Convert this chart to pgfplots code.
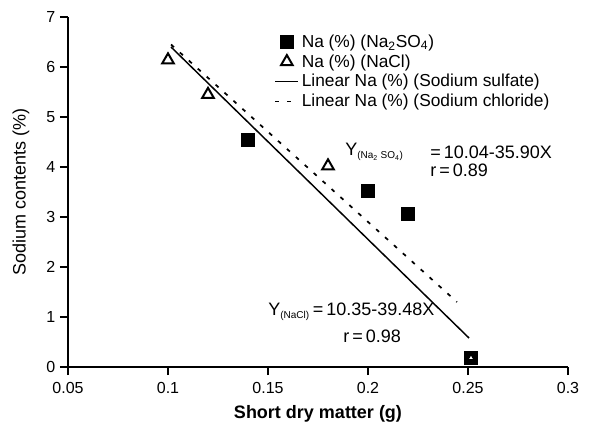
\documentclass[border=0pt]{standalone}
\usepackage{pgfplots}
\pgfplotsset{compat=1.18}
\usepackage{fontspec}
\setmainfont{Liberation Sans}
\begin{document}
\begin{tikzpicture}
\useasboundingbox (-51pt,-47.25pt) rectangle (390.75pt,275.25pt);
\begin{axis}[
  at={(0pt,0pt)}, anchor=south west,
  scale only axis, width=375pt, height=262.5pt,
  xmin=0.05, xmax=0.3, ymin=0, ymax=7,
  axis x line*=bottom, axis y line*=left,
  axis line style={-, line width=1.1pt},
  xtick={0.05,0.1,0.15,0.2,0.25,0.3},
  xticklabels={0.05,0.1,0.15,0.2,0.25,0.3},
  ytick={0,1,...,7},
  xtick align=outside, ytick align=outside,
  major tick length=6pt,
  xtick style={line width=1.8pt, black},
  ytick style={line width=1.8pt, black},
  /pgf/number format/assume math mode=true,
  tick label style={font=\fontsize{12}{14}\selectfont},
  xticklabel style={yshift=-2pt},
  xlabel={\textbf{Short dry matter (g)}},
  ylabel={Sodium contents (\%)},
  label style={font=\fontsize{13.5}{15}\selectfont},
  xlabel style={yshift=-2pt},
  ylabel style={yshift=6pt},
  clip=false,
  legend style={draw=none, fill=none, at={(0.41,0.962)}, anchor=north west,
    font=\fontsize{13}{15}\selectfont, row sep=0pt, inner sep=1pt},
  legend cell align=left,
]
\addplot[only marks, mark=square*, mark size=5pt, black] coordinates {
  (0.14,4.55) (0.20,3.52) (0.22,3.06) (0.2515,0.18)
};
\addlegendentry{Na (\%) (Na\textsubscript{2}SO\textsubscript{4})}
\addplot[only marks, mark=triangle, mark size=5pt, black, line width=1.5pt, mark options={fill=white}] coordinates {
  (0.10,6.14) (0.12,5.45) (0.18,4.02)
};
\addlegendentry{Na (\%) (NaCl)}
\addplot[black, line width=1.1pt] coordinates {(0.1015,6.40) (0.2505,0.58)};
\addlegendentry{Linear Na (\%) (Sodium sulfate)}
\addplot[black, line width=1.3pt, dash pattern=on 3pt off 6pt] coordinates {(0.1015,6.45) (0.2445,1.30)};
\addlegendentry{Linear Na (\%) (Sodium chloride)}
\addplot[only marks, mark=triangle*, mark size=3pt, black, line width=1.2pt, mark options={fill=white, draw=black}, forget plot] coordinates {
  (0.2515,0.18)
};
\pgfplotsinvokeforeach{0.05,0.1,0.15,0.2,0.25,0.3}{
  \draw[line width=1.6pt, black] (axis cs:#1,0) -- ([yshift=-6pt]axis cs:#1,0);
}
\pgfplotsinvokeforeach{0,1,2,3,4,5,6,7}{
  \draw[line width=1.6pt, black] (axis cs:0.05,#1) -- ([xshift=-6pt]axis cs:0.05,#1);
}
\node[anchor=west, inner sep=0pt, font=\fontsize{13.5}{15}\selectfont] at (axis cs:0.1885,4.30) {Y\textsubscript{\fontsize{7.5}{8}\selectfont(Na\textsubscript{2} SO\textsubscript{4})}};
\node[anchor=west, inner sep=0pt, font=\fontsize{13.5}{15}\selectfont] at (axis cs:0.231,4.30) {=\,10.04-35.90X};
\node[anchor=west, inner sep=0pt, font=\fontsize{13.5}{15}\selectfont] at (axis cs:0.231,3.94) {r\,=\,0.89};
\node[anchor=west, inner sep=0pt, font=\fontsize{13.5}{15}\selectfont] at (axis cs:0.15,1.10) {Y\textsubscript{\fontsize{7.5}{8}\selectfont(NaCl)}\,=\,10.35-39.48X};
\node[anchor=west, inner sep=0pt, font=\fontsize{13.5}{15}\selectfont] at (axis cs:0.1875,0.62) {r\,=\,0.98};
\end{axis}
\end{tikzpicture}
\end{document}
